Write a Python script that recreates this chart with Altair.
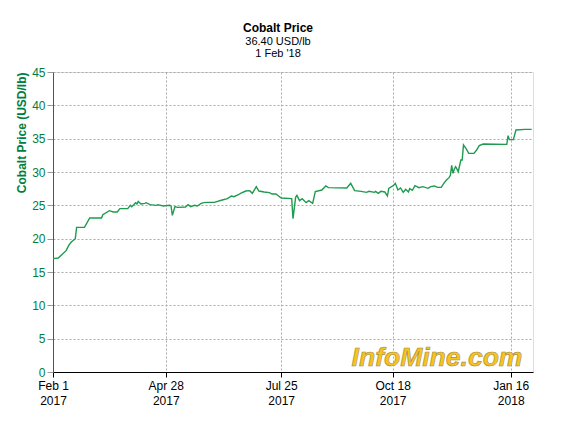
import altair as alt
import pandas as pd

dates = [
    "2017-02-01", "2017-02-05", "2017-02-11", "2017-02-13", "2017-02-15", "2017-02-18", "2017-02-19",
    "2017-02-25", "2017-03-01", "2017-03-10", "2017-03-11", "2017-03-16", "2017-03-19", "2017-03-22",
    "2017-03-24", "2017-03-30", "2017-04-01", "2017-04-02", "2017-04-05", "2017-04-06", "2017-04-07",
    "2017-04-09", "2017-04-12", "2017-04-13", "2017-04-16", "2017-04-21", "2017-04-22", "2017-04-26",
    "2017-05-01", "2017-05-02", "2017-05-03", "2017-05-05", "2017-05-07", "2017-05-13", "2017-05-15",
    "2017-05-17", "2017-05-20", "2017-05-22", "2017-05-25", "2017-05-27", "2017-05-30", "2017-06-04",
    "2017-06-10", "2017-06-14", "2017-06-17", "2017-06-19", "2017-06-22", "2017-06-24", "2017-06-28",
    "2017-07-01", "2017-07-03", "2017-07-06", "2017-07-08", "2017-07-12", "2017-07-16", "2017-07-18",
    "2017-07-21", "2017-07-24", "2017-07-25", "2017-08-02", "2017-08-03", "2017-08-05", "2017-08-06",
    "2017-08-08", "2017-08-10", "2017-08-13", "2017-08-15", "2017-08-18", "2017-08-20", "2017-08-25",
    "2017-08-28", "2017-08-30", "2017-09-13", "2017-09-16", "2017-09-19", "2017-09-24", "2017-09-28",
    "2017-09-30", "2017-10-04", "2017-10-05", "2017-10-07", "2017-10-09", "2017-10-12", "2017-10-14",
    "2017-10-15", "2017-10-19", "2017-10-20", "2017-10-22", "2017-10-24", "2017-10-26", "2017-10-28",
    "2017-10-30", "2017-10-31", "2017-11-02", "2017-11-04", "2017-11-07", "2017-11-10", "2017-11-14",
    "2017-11-16", "2017-11-19", "2017-11-21", "2017-11-24", "2017-11-26", "2017-11-28", "2017-11-30",
    "2017-12-01", "2017-12-02", "2017-12-03", "2017-12-04", "2017-12-05", "2017-12-07", "2017-12-09",
    "2017-12-10", "2017-12-11", "2017-12-13", "2017-12-15", "2017-12-19", "2017-12-21", "2017-12-23",
    "2017-12-26", "2018-01-13", "2018-01-14", "2018-01-15", "2018-01-18", "2018-01-20", "2018-01-27",
    "2018-02-01",
]
prices = [
    17.0, 17.1, 18.2, 19.0, 19.5, 20.0, 21.7,
    21.7, 23.1, 23.1, 23.6, 24.2, 24.0, 24.0,
    24.5, 24.5, 25.0, 24.8, 25.4, 25.2, 25.6,
    25.2, 25.3, 25.4, 25.1, 25.0, 25.1, 24.9,
    25.0, 24.9, 23.5, 24.8, 24.7, 24.75, 25.1,
    24.8, 25.0, 24.9, 25.3, 25.4, 25.45, 25.45,
    25.8, 26.0, 26.4, 26.3, 26.55, 26.8, 27.15,
    27.2, 26.8, 27.8, 27.15, 27.0, 26.9, 26.7,
    26.7, 26.25, 26.1, 26.0, 23.0, 26.2, 26.5,
    25.7, 26.0, 25.4, 25.7, 25.3, 27.05, 27.3,
    27.9, 27.65, 27.6, 28.3, 27.2, 27.1, 26.95,
    27.1, 26.95, 27.1, 26.8, 27.1, 27.0, 26.4,
    27.55, 28.05, 28.3, 27.3, 27.6, 26.95, 27.4,
    27.0, 27.5, 27.25, 27.95, 27.65, 27.8, 27.55,
    27.8, 27.9, 27.7, 27.7, 28.3, 28.8, 29.15,
    29.5, 31.0, 29.8, 30.45, 30.8, 30.05, 31.8,
    31.8, 34.05, 33.5, 32.8, 32.8, 33.3, 33.95,
    34.2, 34.15, 35.45, 34.85, 34.85, 36.3, 36.4,
    36.4,
]

tick_dates = [(2017, 2, 1), (2017, 4, 28), (2017, 7, 25), (2017, 10, 18), (2018, 1, 16)]
y_ticks = [0, 5, 10, 15, 20, 25, 30, 35, 40, 45]

title_text = "Cobalt Price"
subtitle_lines = ["36.40 USD/lb", "1 Feb '18"]
y_title = "Cobalt Price (USD/lb)"
watermark = "InfoMine.com"

df = pd.DataFrame({"date": dates, "price": prices})

FONT = "Liberation Sans"
GREEN = "#008040"

x_enc = alt.X(
    "date:T",
    scale=alt.Scale(
        type="utc",
        domain=[alt.DateTime(year=2017, month=2, date=1, utc=True),
                alt.DateTime(year=2018, month=2, date=2, utc=True)],
        nice=False,
    ),
    axis=alt.Axis(
        values=[alt.DateTime(year=y, month=m, date=d, utc=True) for (y, m, d) in tick_dates],
        labelExpr="[utcFormat(datum.value, '%b %-d'), utcFormat(datum.value, '%Y')]",
        title=None,
        labelColor="black",
        labelFontSize=12,
        labelLineHeight=15,
        labelFont=FONT,
        labelPadding=3,
        tickColor="black",
        tickSize=5,
        domainColor="black",
        gridColor="#aaaaaa",
        gridDash=[2, 2],
        labelFlush=False,
        labelOverlap=False,
    ),
)

y_enc = alt.Y(
    "price:Q",
    scale=alt.Scale(domain=[0, 45], nice=False),
    axis=alt.Axis(
        values=y_ticks,
        title=y_title,
        titleColor=GREEN,
        titleFont=FONT,
        titleFontSize=12,
        titleFontWeight="bold",
        titleAnchor="end",
        titlePadding=3,
        labelColor=GREEN,
        labelFont=FONT,
        labelFontSize=12,
        labelPadding=2,
        tickColor="#999999",
        tickSize=6,
        domainColor=GREEN,
        gridColor="#aaaaaa",
        gridDash=[2, 2],
    ),
)

line = alt.Chart(df).mark_line(color="#1f9a4f", strokeWidth=1.4).encode(x=x_enc, y=y_enc)

wm_df = pd.DataFrame({"t": [watermark]})
wm = alt.Chart(wm_df).mark_text(
    font=FONT, fontSize=26.5, fontWeight="bold", fontStyle="italic",
    color="#f7c41c", stroke="#a08a50", strokeWidth=0.6,
    align="center", baseline="alphabetic",
).encode(text="t:N", x=alt.value(384), y=alt.value(294))

chart = alt.layer(line, wm).properties(
    width=480,
    height=300,
    autosize=alt.AutoSizeParams(type="none"),
    padding={"left": 45, "top": 64, "right": 20, "bottom": 40},
    title=alt.TitleParams(
        text=title_text,
        subtitle=subtitle_lines,
        anchor="middle",
        dx=-15,
        font=FONT,
        fontSize=12,
        fontWeight="bold",
        color="black",
        subtitleFont=FONT,
        subtitleFontSize=11,
        subtitleColor="black",
        subtitlePadding=1,
        subtitleLineHeight=12,
        offset=6,
    ),
).configure_view(stroke="black", strokeWidth=1).configure(background="white")

chart.save("out.html", embed_options={"renderer": "svg", "actions": False})
